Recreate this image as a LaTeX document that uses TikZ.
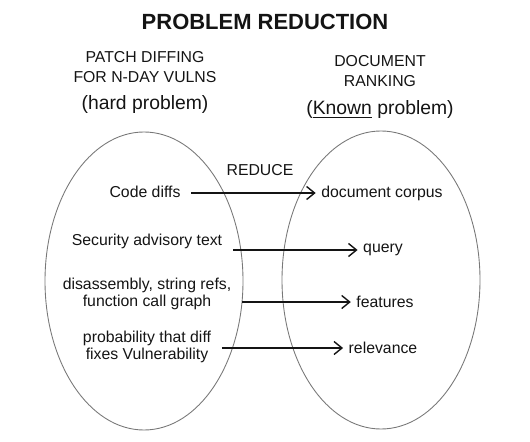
\documentclass[tikz,border=0pt]{standalone}
\usepackage{fontspec}
\setmainfont{Liberation Sans}
\usepackage{tikz}
\usetikzlibrary{arrows.meta, positioning, calc}
\definecolor{ink}{RGB}{20, 20, 20}
\definecolor{lgray}{RGB}{120, 120, 120}

\begin{document}
\begin{tikzpicture}[
    lbl/.style={font=\fontsize{9}{10}\selectfont, text=ink, inner sep=1pt, align=center},
    head/.style={font=\fontsize{9}{11}\selectfont, text=ink, align=center},
    paren/.style={font=\fontsize{11}{12}\selectfont, text=ink},
    blob/.style={draw=lgray, line width=0.5pt},
    maps/.style={-{Straight Barb[length=1.6mm, width=2.6mm]}, ink, line width=0.8pt, shorten <=5pt, shorten >=2pt}
  ]
        \useasboundingbox (0,0) rectangle (10.6,-8.84);
        % Title
        \node[font=\bfseries\fontsize{12.5}{14}\selectfont, text=ink] (title) at (5.30,-0.44)
          {PROBLEM REDUCTION};
        % The two problems
        \draw[blob] (2.88,-5.62) ellipse [x radius=1.98, y radius=2.98];
        \draw[blob] (7.62,-5.60) ellipse [x radius=1.98, y radius=2.98];
        % Left heading
        \node[head] (patch) at (2.90,-1.34) {PATCH DIFFING\\FOR N-DAY VULNS};
        \node[paren] (hard) at (2.90,-2.10) {(hard problem)};
        % Right heading
        \node[head] (rank) at (7.60,-1.42) {DOCUMENT\\RANKING};
        \node[paren] (known) at (7.60,-2.20) {(\underline{Known} problem)};
        % Reduce label
        \node[lbl] (reduce) at (5.20,-3.40) {REDUCE};
        % Left items
        \node[lbl] (diffs) at (2.90,-3.84) {Code diffs};
        \node[lbl] (advisory) at (2.94,-4.82) {Security advisory text};
        \node[lbl] (disasm) at (2.94,-5.88) {disassembly, string refs,\\function call graph};
        \node[lbl] (prob) at (2.94,-6.94) {probability that diff\\fixes Vulnerability};
        % Right items
        \node[lbl] (corpus) at (7.64,-3.86) {document corpus};
        \node[lbl] (query) at (7.66,-5.00) {query};
        \node[lbl] (feat) at (7.70,-6.04) {features};
        \node[lbl] (relev) at (7.66,-6.96) {relevance};
        % Mappings
        \draw[maps] (diffs.east |- corpus.west) -- (corpus.west);
        \draw[maps] (advisory.east |- query.west) -- (query.west);
        \draw[maps] (disasm.east |- feat.west) -- (feat.west);
        \draw[maps] (prob.east |- relev.west) -- (relev.west);
\end{tikzpicture}
\end{document}
